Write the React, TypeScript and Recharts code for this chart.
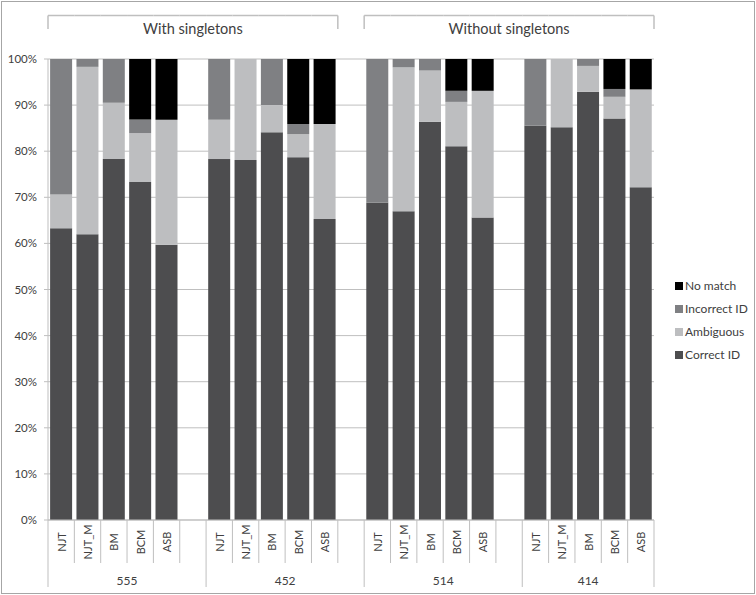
import React from 'react';
import { BarChart, Bar, XAxis, YAxis, CartesianGrid, Legend } from 'recharts';

const groups = ['555', '452', '514', '414'];
const groupSections = ['With singletons', 'With singletons', 'Without singletons', 'Without singletons'];
const methods = ['NJT', 'NJT_M', 'BM', 'BCM', 'ASB'];

// values per bar, group-major order (555, 452, 514, 414) x (NJT, NJT_M, BM, BCM, ASB)
const correctID = [
  63.3, 62.0, 78.3, 73.3, 59.7,
  78.3, 78.1, 84.1, 78.7, 65.3,
  68.8, 67.0, 86.4, 81.1, 65.6,
  85.5, 85.2, 92.9, 87.1, 72.2,
];
const ambiguous = [
  7.3, 36.3, 12.2, 10.6, 27.1,
  8.5, 21.9, 5.9, 5.0, 20.6,
  0, 31.2, 11.1, 9.6, 27.5,
  0, 14.8, 5.6, 4.7, 21.2,
];
const incorrectID = [
  29.4, 1.7, 9.5, 3.0, 0,
  13.2, 0, 10.0, 2.2, 0,
  31.2, 1.8, 2.5, 2.4, 0,
  14.5, 0, 1.5, 1.7, 0,
];
const noMatch = [
  0, 0, 0, 13.1, 13.2,
  0, 0, 0, 14.1, 14.1,
  0, 0, 0, 6.9, 6.9,
  0, 0, 0, 6.5, 6.6,
];

const yTicks = [0, 10, 20, 30, 40, 50, 60, 70, 80, 90, 100];

const seriesDefs = [
  { key: 'correct', name: 'Correct ID', color: '#4d4d4f' },
  { key: 'ambiguous', name: 'Ambiguous', color: '#bdbec0' },
  { key: 'incorrect', name: 'Incorrect ID', color: '#7f8083' },
  { key: 'noMatch', name: 'No match', color: '#000000' },
];

const FONT = 'Lato, "Open Sans", sans-serif';
const TEXT = '#404040';
const LINE = '#bfbfbf';

type Row = {
  key: string;
  method: string;
  group: string;
  groupFirst: boolean;
  groupSize: number;
  section: string | null;
  sectionFirst: boolean;
  sectionLast: boolean;
  sectionSize: number;
  correct?: number;
  ambiguous?: number;
  incorrect?: number;
  noMatch?: number;
};

const rows: Row[] = [];
groups.forEach((g, gi) => {
  methods.forEach((m, mi) => {
    const i = gi * methods.length + mi;
    rows.push({
      key: `${g}-${m}`, method: m, group: g, groupFirst: mi === 0, groupSize: 0,
      section: groupSections[gi], sectionFirst: false, sectionLast: false, sectionSize: 0,
      correct: correctID[i], ambiguous: ambiguous[i], incorrect: incorrectID[i], noMatch: noMatch[i],
    });
  });
  if (gi < groups.length - 1) {
    rows.push({
      key: `${g}-gap`, method: '', group: g, groupFirst: false, groupSize: 0,
      section: groupSections[gi + 1] === groupSections[gi] ? groupSections[gi] : null,
      sectionFirst: false, sectionLast: false, sectionSize: 0,
    });
  }
});
rows.forEach((r, i) => {
  r.groupSize = rows.filter((o) => o.group === r.group).length;
  if (r.section) {
    const prev = rows[i - 1];
    const next = rows[i + 1];
    r.sectionFirst = !prev || prev.section !== r.section;
    r.sectionLast = !next || next.section !== r.section;
    r.sectionSize = rows.filter((o) => o.section === r.section).length;
  }
});

const BottomTick = (props: any) => {
  const { x, y, payload } = props;
  const idx = payload?.index ?? props.index;
  const row = rows[idx];
  if (!row) return null;
  const half = payload?.offset ?? 13.17;
  const left = x - half;
  const isLast = idx === rows.length - 1;
  return (
    <g>
      <line x1={left} x2={left} y1={y} y2={y + (row.groupFirst ? 67 : 43)} stroke={LINE} />
      {isLast && <line x1={x + half} x2={x + half} y1={y} y2={y + 67} stroke={LINE} />}
      {row.method && (
        <text
          transform={`translate(${x},${y + 22}) rotate(-90)`}
          textAnchor="middle"
          dominantBaseline="central"
          fontSize={11}
          fontFamily={FONT}
          fill={TEXT}
        >
          {row.method}
        </text>
      )}
      {row.groupFirst && (
        <text
          x={left + row.groupSize * half}
          y={y + 60}
          textAnchor="middle"
          dominantBaseline="central"
          fontSize={12}
          fontFamily={FONT}
          fill={TEXT}
        >
          {row.group}
        </text>
      )}
    </g>
  );
};

const TopTick = (props: any) => {
  const { x, payload } = props;
  const idx = payload?.index ?? props.index;
  const row = rows[idx];
  if (!row || !row.section) return <g />;
  const half = payload?.offset ?? 13.17;
  const left = x - half;
  const right = x + half;
  const yTop = 15.5;
  const yBot = 29;
  return (
    <g>
      <line x1={left} x2={right} y1={yTop} y2={yTop} stroke={LINE} strokeWidth={1.5} />
      {row.sectionFirst && <line x1={left} x2={left} y1={yTop} y2={yBot} stroke={LINE} strokeWidth={1.5} />}
      {row.sectionLast && <line x1={right} x2={right} y1={yTop} y2={yBot} stroke={LINE} strokeWidth={1.5} />}
      {row.sectionFirst && (
        <text
          x={left + row.sectionSize * half}
          y={28}
          textAnchor="middle"
          dominantBaseline="central"
          fontSize={14.5}
          fontFamily={FONT}
          fill={TEXT}
        >
          {row.section}
        </text>
      )}
    </g>
  );
};

const LegendContent = () => (
  <div style={{ fontFamily: FONT, fontSize: 12, color: TEXT }}>
    {[...seriesDefs].reverse().map((s) => (
      <div key={s.key} style={{ display: 'flex', alignItems: 'center', height: 23 }}>
        <span style={{ display: 'inline-block', width: 8, height: 8, background: s.color, marginLeft: 3, marginRight: 2 }} />
        <span>{s.name}</span>
      </div>
    ))}
  </div>
);

export default function App() {
  return (
    <div style={{ position: 'absolute', left: 0, top: 0, width: 756, height: 595, background: '#fff' }}>
      <BarChart
        width={756}
        height={595}
        data={rows}
        margin={{ top: 39, right: 102, bottom: 0, left: 8 }}
        barCategoryGap="8%"
      >
        <CartesianGrid vertical={false} stroke={LINE} xAxisId="main" />
        <XAxis
          xAxisId="main"
          dataKey="key"
          height={75}
          interval={0}
          tickLine={false}
          tickSize={0}
          tickMargin={0}
          axisLine={{ stroke: LINE }}
          tick={<BottomTick />}
        />
        <XAxis
          xAxisId="top"
          dataKey="key"
          orientation="top"
          height={20}
          interval={0}
          tickLine={false}
          axisLine={false}
          tick={<TopTick />}
        />
        <YAxis
          width={40}
          domain={[0, 100]}
          ticks={yTicks}
          allowDataOverflow
          tickFormatter={(v: number) => `${v}%`}
          tickSize={4}
          tickMargin={7}
          tickLine={{ stroke: LINE }}
          axisLine={{ stroke: LINE }}
          tick={{ fontSize: 11.5, fontFamily: FONT, fill: TEXT }}
        />
        {seriesDefs.map((s) => (
          <Bar
            key={s.key}
            xAxisId="main"
            dataKey={s.key}
            name={s.name}
            stackId="a"
            fill={s.color}
            isAnimationActive={false}
          />
        ))}
        <Legend
          layout="vertical"
          align="center"
          verticalAlign="middle"
          wrapperStyle={{ left: 672, top: 274, width: 84 }}
          content={<LegendContent />}
        />
      </BarChart>
      <div
        style={{
          position: 'absolute', left: 1, top: 1, width: 754, height: 593,
          boxSizing: 'border-box', border: '1px solid #a6a6a6', pointerEvents: 'none',
        }}
      />
    </div>
  );
}
